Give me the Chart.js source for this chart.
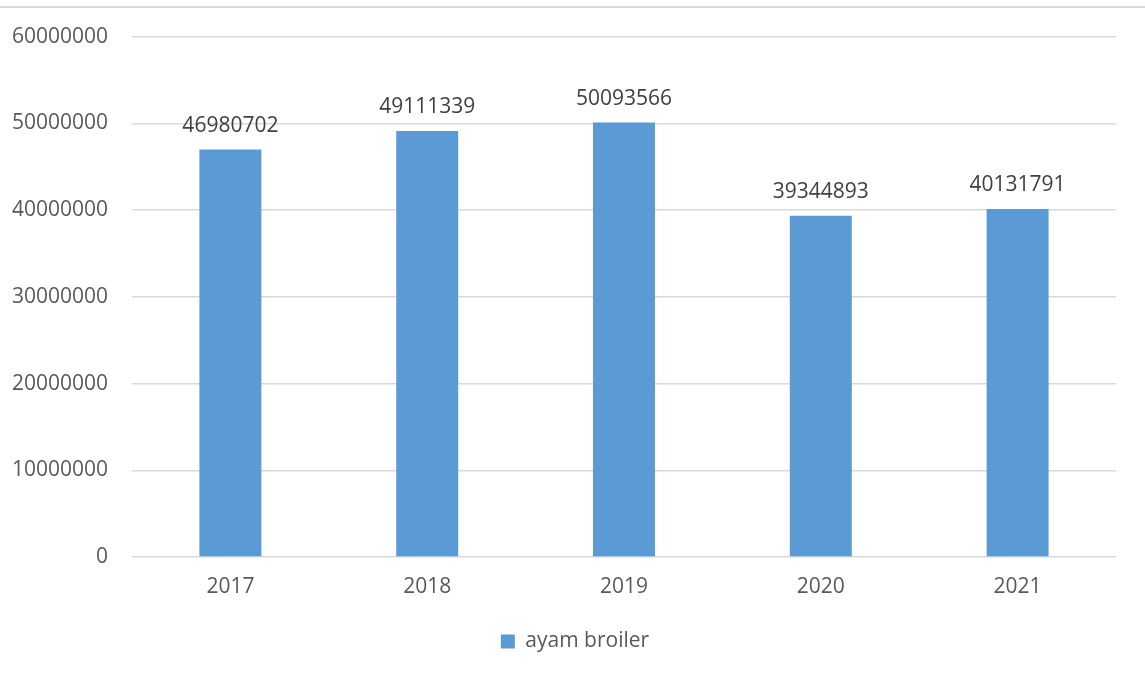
<!DOCTYPE html>
<html>
<head>
<meta charset="utf-8">
<script src="https://cdn.jsdelivr.net/npm/chart.js@4.4.1/dist/chart.umd.min.js"></script>
<style>
  html, body { margin: 0; padding: 0; background: #fff; }
  #wrap { position: relative; width: 1145px; height: 674px; }
  #topline { position: absolute; left: 0; top: 6px; width: 1145px; height: 2px; background: #d9d9d9; }
  canvas { position: absolute; left: 0; top: 0; }
</style>
</head>
<body>
<div id="wrap">
  <div id="topline"></div>
  <canvas id="grafico" width="1145" height="674"></canvas>
</div>
<script>
const tahun = ['2017', '2018', '2019', '2020', '2021'];
const ayamBroiler = [46980702, 49111339, 50093566, 39344893, 40131791];
const nilaiSumbuY = [0, 10000000, 20000000, 30000000, 40000000, 50000000, 60000000];

const warnaBatang = '#5b9bd5';
const warnaTeks = '#595959';
const hurufDasar = "'Open Sans', 'Noto Sans', sans-serif";

// tulis angka di atas tiap batang
const labelAtas = {
    id: 'labelAtas',
    afterDatasetsDraw(chart) {
        const ctx = chart.ctx;
        const meta = chart.getDatasetMeta(0);
        ctx.save();
        ctx.fillStyle = '#404040';
        ctx.font = '21px ' + hurufDasar;
        ctx.textAlign = 'center';
        ctx.textBaseline = 'alphabetic';
        meta.data.forEach((bar, i) => {
            ctx.fillText(String(chart.data.datasets[0].data[i]), bar.x, bar.y - 18);
        });
        ctx.restore();
    }
};

// geser legenda sedikit ke kanan, seperti di Excel
const geserLegenda = {
    id: 'geserLegenda',
    afterLayout(chart) {
        if (chart.legend) {
            chart.legend.left += 17;
            chart.legend.right += 17;
        }
    }
};

new Chart(document.getElementById('grafico'), {
    type: 'bar',
    data: {
        labels: tahun,
        datasets: [{
            label: 'ayam broiler',
            data: ayamBroiler,
            backgroundColor: warnaBatang,
            borderWidth: 0,
            barPercentage: 0.63,
            categoryPercentage: 0.5
        }]
    },
    options: {
        responsive: false,
        animation: false,
        layout: { padding: { left: 0, right: 29, top: 36, bottom: 12 } },
        plugins: {
            legend: {
                position: 'bottom',
                labels: {
                    color: warnaTeks,
                    font: { size: 21, family: hurufDasar },
                    boxWidth: 14,
                    boxHeight: 14,
                    padding: 12
                }
            },
            tooltip: { enabled: false }
        },
        scales: {
            x: {
                grid: { display: false, drawTicks: false },
                border: { display: false },
                ticks: { color: warnaTeks, font: { size: 21, family: hurufDasar }, padding: 17 },
                afterFit: (s) => { s.height = 62; }
            },
            y: {
                min: 0,
                max: 60000000,
                afterBuildTicks: (s) => { s.ticks = nilaiSumbuY.map(v => ({ value: v })); },
                grid: { color: '#d9d9d9', lineWidth: 1.5, drawTicks: false },
                border: { display: false },
                ticks: {
                    color: warnaTeks,
                    font: { size: 21, family: hurufDasar },
                    padding: 24,
                    callback: (v) => String(v)
                },
                afterFit: (s) => { s.width = 132; }
            }
        }
    },
    plugins: [labelAtas, geserLegenda]
});
</script>
</body>
</html>
